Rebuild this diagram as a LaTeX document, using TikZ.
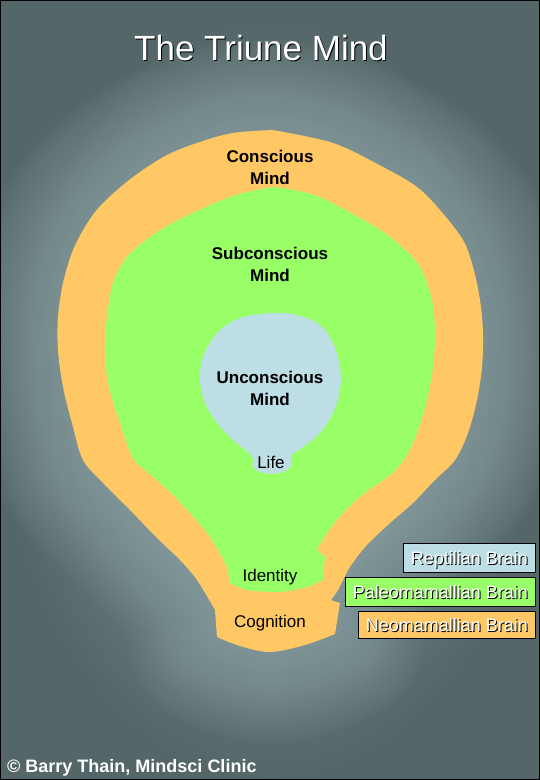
\documentclass[tikz,border=0pt]{standalone}
\usepackage{fontspec}
\setmainfont{Liberation Sans}

\definecolor{bgdark}{RGB}{84,102,104}
\definecolor{bgmid}{RGB}{108,128,130}
\definecolor{bgglow}{RGB}{160,182,184}
\definecolor{neo}{RGB}{255,200,100}
\definecolor{paleo}{RGB}{153,255,102}
\definecolor{rept}{RGB}{188,222,228}

\pgfdeclareradialshading{glow}{\pgfpoint{0bp}{0bp}}{color(0bp)=(bgmid); color(12bp)=(bgmid); color(25bp)=(bgdark); color(50bp)=(bgdark)}

% white text with a dark drop shadow
\newcommand{\shadowed}[1]{\rlap{\kern1pt\raisebox{-1pt}{\textcolor{black}{#1}}}#1}

\begin{document}
\begin{tikzpicture}[
    x=1pt, y=-1pt,
    mind/.style={align=center, inner sep=0pt, font=\fontsize{17}{22}\selectfont\bfseries},
    part/.style={anchor=base, inner sep=0pt, font=\fontsize{17}{20}\selectfont},
    key/.style={draw=black, line width=1pt, inner sep=0pt, anchor=north east, minimum height=29pt,
                text height=13pt, text depth=0pt, text=white, font=\fontsize{18}{20}\selectfont},
    smth/.style={smooth, tension=0.55}
]
\useasboundingbox (0,0) rectangle (540,780);
\fill[bgdark] (0,0) rectangle (540,780);
\shade[shading=glow] (0,20) rectangle (540,780);

% outer layer: conscious mind
\path[save path=\outerpath] plot[smth] coordinates {(272,130) (333,143) (383,167) (417,187) (440,210) (463,240) (473,267)
    (480,300) (483,333) (482,367) (477,400) (468,433) (455,460) (434,481) (413,503) (390,523) (367,545)
    (350,567) (338,590) (331,600)}
  -- (340,603) -- (335,634)
  -- plot[smth] coordinates {(335,634) (305,645) (270,652) (240,646) (217,637)}
  -- (215,610)
  -- plot[smth] coordinates {(215,610) (197,580) (180,560) (157,538) (130,510) (104,484) (83,460) (73,427)
    (63,387) (58,350) (58,317) (63,283) (73,250) (88,222) (104,202) (133,177) (167,155) (200,142) (233,133) (272,130)}
  -- cycle;

% soft halo round the outer layer
\foreach \w in {10,20,...,180}
  \draw[bgglow, line width=\w pt, opacity=0.045, line join=round, use path=\outerpath];
\fill[neo, use path=\outerpath];

% middle layer: subconscious mind
\fill[paleo] plot[smth] coordinates {(273,187) (317,196) (377,228) (403,248) (420,267) (432,300) (435,333)
    (433,367) (427,400) (417,433) (405,458) (390,475) (363,494) (343,513) (327,533) (317,550)}
  -- (325,557) -- (323,580)
  -- plot[smth] coordinates {(323,580) (307,587) (280,592) (247,590) (230,583)}
  -- (227,567)
  -- plot[smth] coordinates {(227,567) (222,557) (210,537) (190,513) (170,492) (150,474) (133,458) (118,417)
    (108,383) (105,350) (107,317) (113,283) (127,257) (150,237) (180,219) (233,196) (273,187)}
  -- cycle;

% inner layer: unconscious mind
\fill[rept] plot[smooth cycle, tension=0.55] coordinates {(272,313) (297,315) (320,325) (333,343) (340,367)
    (340,390) (333,413) (320,433) (303,447) (291,456) (291,466) (280,473) (263,473) (253,467) (253,459)
    (248,452) (233,440) (217,423) (205,403) (200,380) (203,357) (217,333) (240,318)};

\node[anchor=base, inner sep=0pt, text=white, font=\fontsize{35}{40}\selectfont] (T) at (261,60) {\shadowed{The Triune Mind}};

\node[mind] (C) at (270,167) {Conscious\\Mind};
\node[mind] (S) at (270,264) {Subconscious\\Mind};
\node[mind] (U) at (270,388) {Unconscious\\Mind};
\node[part] (L) at (271,468) {Life};
\node[part] (I) at (270,581) {Identity};
\node[part] (G) at (270,627) {Cognition};

\node[key, fill=rept, minimum width=132pt] (R) at (536,543) {\shadowed{Reptilian Brain}};
\node[key, fill=paleo, minimum width=190pt] (P) at (536,577) {\shadowed{Paleomamallian Brain}};
\node[key, fill=neo, minimum width=177pt, minimum height=27pt] (N) at (536,611) {\shadowed{Neomamallian Brain}};

\node[anchor=base west, inner sep=0pt, text=white, font=\fontsize{18}{20}\selectfont\bfseries] (F) at (7,772) {© Barry Thain, Mindsci Clinic};

\draw[black, line width=2pt] (0,0) rectangle (540,780);
\end{tikzpicture}
\end{document}
